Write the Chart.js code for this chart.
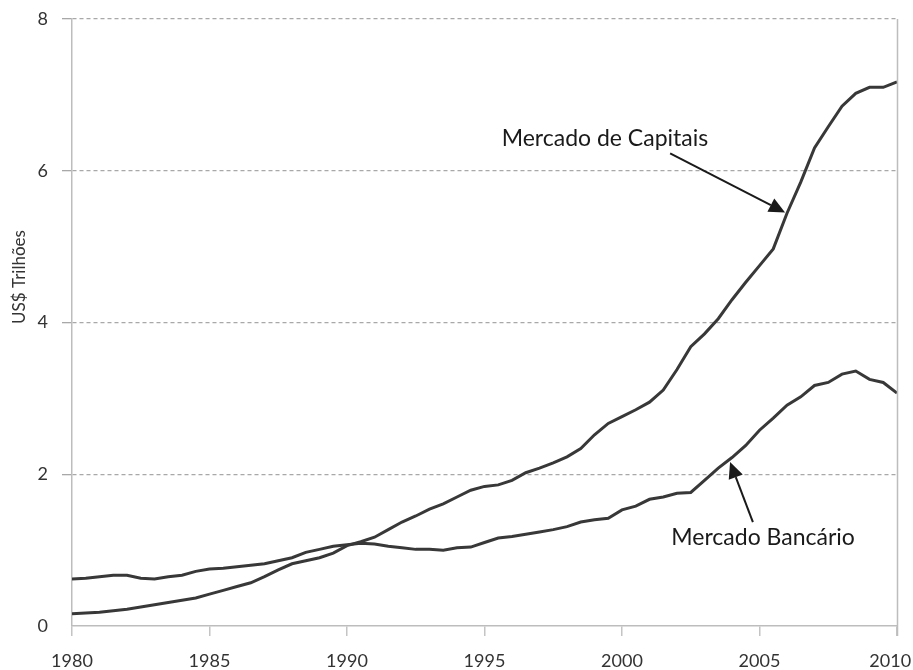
<!DOCTYPE html>
<html>
<head>
<meta charset="utf-8">
<script src="https://cdn.jsdelivr.net/npm/chart.js@4/dist/chart.umd.min.js"></script>
<style>
  html, body { margin: 0; padding: 0; background: #ffffff; }
  #wrap { width: 913px; height: 670px; position: relative; }
</style>
</head>
<body>
<div id="wrap"><canvas id="c" width="913" height="670"></canvas></div>
<script>
// Half-yearly observations, 1980–2010 (US$ trillions)
const years = [
  1980.0, 1980.5, 1981.0, 1981.5, 1982.0, 1982.5, 1983.0, 1983.5, 1984.0, 1984.5,
  1985.0, 1985.5, 1986.0, 1986.5, 1987.0, 1987.5, 1988.0, 1988.5, 1989.0, 1989.5,
  1990.0, 1990.5, 1991.0, 1991.5, 1992.0, 1992.5, 1993.0, 1993.5, 1994.0, 1994.5,
  1995.0, 1995.5, 1996.0, 1996.5, 1997.0, 1997.5, 1998.0, 1998.5, 1999.0, 1999.5,
  2000.0, 2000.5, 2001.0, 2001.5, 2002.0, 2002.5, 2003.0, 2003.5, 2004.0, 2004.5,
  2005.0, 2005.5, 2006.0, 2006.5, 2007.0, 2007.5, 2008.0, 2008.5, 2009.0, 2009.5,
  2010.0
];

const mercadoCapitais = [
  0.16, 0.17, 0.18, 0.20, 0.22, 0.25, 0.28, 0.31, 0.34, 0.37,
  0.42, 0.47, 0.52, 0.57, 0.65, 0.74, 0.82, 0.86, 0.90, 0.96,
  1.06, 1.11, 1.17, 1.27, 1.37, 1.45, 1.54, 1.61, 1.70, 1.79,
  1.84, 1.86, 1.92, 2.02, 2.08, 2.15, 2.23, 2.34, 2.52, 2.67,
  2.76, 2.85, 2.95, 3.11, 3.38, 3.68, 3.85, 4.05, 4.30, 4.53,
  4.75, 4.97, 5.44, 5.85, 6.30, 6.58, 6.85, 7.02, 7.10, 7.10,
  7.17
];

const mercadoBancario = [
  0.62, 0.63, 0.65, 0.67, 0.67, 0.63, 0.62, 0.65, 0.67, 0.72,
  0.75, 0.76, 0.78, 0.80, 0.82, 0.86, 0.90, 0.97, 1.01, 1.05,
  1.07, 1.09, 1.08, 1.05, 1.03, 1.01, 1.01, 1.00, 1.03, 1.04,
  1.10, 1.16, 1.18, 1.21, 1.24, 1.27, 1.31, 1.37, 1.40, 1.42,
  1.53, 1.58, 1.67, 1.70, 1.75, 1.76, 1.92, 2.08, 2.22, 2.38,
  2.58, 2.74, 2.91, 3.02, 3.17, 3.21, 3.32, 3.36, 3.25, 3.21,
  3.07
];

const xTicks = [1980, 1985, 1990, 1995, 2000, 2005, 2010];
const yTicks = [0, 2, 4, 6, 8];

const yTitle = 'US$ Trilhões';

// Callout labels with arrows, placed in data coordinates
const callouts = [
  { text: 'Mercado de Capitais', at: [1999.38, 6.42], from: [2001.75, 6.23], to: [2005.93, 5.45] },
  { text: 'Mercado Bancário',   at: [2005.13, 1.17], from: [2004.76, 1.37], to: [2003.93, 2.16] }
];

const FONT = 'Lato, "Open Sans", sans-serif';
const LINE = '#383838';

const toPoints = vals => years.map((x, i) => ({ x, y: vals[i] }));

const calloutPlugin = {
  id: 'callouts',
  afterDatasetsDraw(chart) {
    const { ctx, scales: { x, y }, chartArea } = chart;
    ctx.save();

    // right frame line of the plot
    ctx.strokeStyle = '#bdbdbd';
    ctx.lineWidth = 1.5;
    ctx.beginPath();
    ctx.moveTo(chartArea.right + 0.5, chartArea.top);
    ctx.lineTo(chartArea.right + 0.5, chartArea.bottom + 10);
    ctx.stroke();

    // axis title, rotated
    ctx.fillStyle = '#333';
    ctx.font = '17px ' + FONT;
    ctx.textAlign = 'center';
    ctx.textBaseline = 'middle';
    ctx.save();
    ctx.translate(20, 277);
    ctx.rotate(-Math.PI / 2);
    ctx.fillText(yTitle, 0, 0);
    ctx.restore();

    callouts.forEach(c => {
      const tx = x.getPixelForValue(c.at[0]);
      const ty = y.getPixelForValue(c.at[1]);
      ctx.fillStyle = '#1a1a1a';
      ctx.font = '23px ' + FONT;
      ctx.textAlign = 'center';
      ctx.textBaseline = 'middle';
      ctx.fillText(c.text, tx, ty);

      const x0 = x.getPixelForValue(c.from[0]);
      const y0 = y.getPixelForValue(c.from[1]);
      const x1 = x.getPixelForValue(c.to[0]);
      const y1 = y.getPixelForValue(c.to[1]);
      const ang = Math.atan2(y1 - y0, x1 - x0);
      const head = 16, half = 7.5;
      const bx = x1 - head * Math.cos(ang);
      const by = y1 - head * Math.sin(ang);

      ctx.strokeStyle = '#1a1a1a';
      ctx.lineWidth = 2;
      ctx.beginPath();
      ctx.moveTo(x0, y0);
      ctx.lineTo(bx, by);
      ctx.stroke();

      ctx.beginPath();
      ctx.moveTo(x1, y1);
      ctx.lineTo(bx + half * Math.sin(ang), by - half * Math.cos(ang));
      ctx.lineTo(bx - half * Math.sin(ang), by + half * Math.cos(ang));
      ctx.closePath();
      ctx.fill();
    });
    ctx.restore();
  }
};

new Chart(document.getElementById('c'), {
  type: 'line',
  data: {
    datasets: [
      {
        label: 'Mercado de Capitais',
        data: toPoints(mercadoCapitais),
        borderColor: LINE,
        borderWidth: 3,
        pointRadius: 0,
        tension: 0
      },
      {
        label: 'Mercado Bancário',
        data: toPoints(mercadoBancario),
        borderColor: LINE,
        borderWidth: 3,
        pointRadius: 0,
        tension: 0
      }
    ]
  },
  options: {
    responsive: false,
    animation: false,
    layout: { padding: { top: 19, right: 16, left: 0, bottom: 0 } },
    plugins: {
      legend: { display: false },
      tooltip: { enabled: false }
    },
    scales: {
      x: {
        type: 'linear',
        min: xTicks[0],
        max: xTicks[xTicks.length - 1],
        afterBuildTicks: s => { s.ticks = xTicks.map(v => ({ value: v })); },
        afterFit: s => { s.height = 44; s.paddingRight = 0; },
        ticks: {
          color: '#333',
          font: { family: FONT, size: 18 },
          padding: 14,
          maxRotation: 0,
          // the last year label sits slightly inward so it stays on the canvas
          callback: v => (v === xTicks[xTicks.length - 1] ? String(v) + '\u2003' : String(v))
        },
        grid: {
          drawOnChartArea: false,
          drawTicks: true,
          tickLength: 10,
          color: '#c4c4c4',
          lineWidth: 1.5
        },
        border: { display: true, color: '#bdbdbd', width: 1.5 }
      },
      y: {
        min: yTicks[0],
        max: yTicks[yTicks.length - 1],
        afterBuildTicks: s => { s.ticks = yTicks.map(v => ({ value: v })); },
        afterFit: s => { s.width = 72; s.paddingTop = 0; s.paddingBottom = 0; },
        ticks: {
          color: '#333',
          font: { family: FONT, size: 18 },
          padding: 14
        },
        grid: {
          color: ctx => (ctx.tick && ctx.tick.value === 0) ? 'rgba(0,0,0,0)' : '#a8a8a8',
          lineWidth: 1.3,
          tickLength: 10
        },
        border: { display: true, color: '#bdbdbd', width: 1.5, dash: [4, 3] }
      }
    }
  },
  plugins: [calloutPlugin]
});
</script>
</body>
</html>
